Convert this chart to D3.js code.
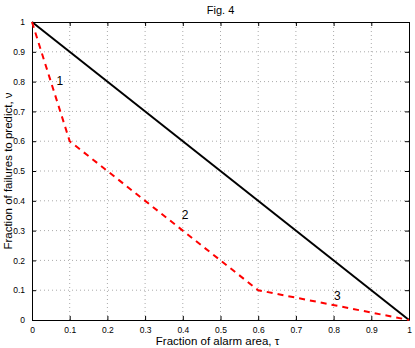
<!DOCTYPE html>
<html lang="en">
<head>
<meta charset="utf-8" />
<script src="https://d3js.org/d3.v7.min.js"></script>
<style>
  body { margin: 0; background: #fff; }
  text { font-family: "Liberation Sans", Arial, sans-serif; }
</style>
</head>
<body>
<div id="chart"></div>
<script>
// data
var diagX = [0, 1];
var diagY = [1, 0];
var redX = [0, 0.1, 0.6, 1];
var redY = [1, 0.6, 0.1, 0];
var labelText = ["1", "2", "3"];
var labelX = [0.074, 0.406, 0.81];
var labelY = [0.8, 0.35, 0.077];
var ticks = [0, 0.1, 0.2, 0.3, 0.4, 0.5, 0.6, 0.7, 0.8, 0.9, 1];

var width = 415, height = 348;
var margin = { left: 32, right: 6, top: 22, bottom: 28 };

var svg = d3.select("#chart").append("svg")
    .attr("width", width)
    .attr("height", height);

var x = d3.scaleLinear().domain([0, 1]).range([margin.left, width - margin.right]);
var y = d3.scaleLinear().domain([0, 1]).range([height - margin.bottom, margin.top]);

// grid
svg.append("g").selectAll("line").data(ticks.slice(1, -1)).enter().append("line")
    .attr("x1", d => x(d)).attr("x2", d => x(d))
    .attr("y1", y(0)).attr("y2", y(1))
    .attr("stroke", "#aaa").attr("stroke-width", 1)
    .attr("stroke-dasharray", "1,3");
svg.append("g").selectAll("line").data(ticks.slice(1, -1)).enter().append("line")
    .attr("y1", d => y(d)).attr("y2", d => y(d))
    .attr("x1", x(0)).attr("x2", x(1))
    .attr("stroke", "#aaa").attr("stroke-width", 1)
    .attr("stroke-dasharray", "1,3");

// axes (ticks inward)
var fmt = d => d === 0 || d === 1 ? d3.format("d")(d) : d3.format(".1f")(d);
var xAxis = svg.append("g").attr("transform", "translate(0," + y(0) + ")")
    .call(d3.axisBottom(x).tickValues(ticks).tickFormat(fmt).tickSizeInner(-4).tickSizeOuter(0).tickPadding(7));
var yAxis = svg.append("g").attr("transform", "translate(" + x(0) + ",0)")
    .call(d3.axisLeft(y).tickValues(ticks).tickFormat(fmt).tickSizeInner(-4).tickSizeOuter(0).tickPadding(7));
var xTop = svg.append("g").attr("transform", "translate(0," + y(1) + ")")
    .call(d3.axisTop(x).tickValues(ticks).tickFormat("").tickSizeInner(-4).tickSizeOuter(0));
var yRight = svg.append("g").attr("transform", "translate(" + x(1) + ",0)")
    .call(d3.axisRight(y).tickValues(ticks).tickFormat("").tickSizeInner(-4).tickSizeOuter(0));
[xAxis, yAxis, xTop, yRight].forEach(function (g) {
    g.selectAll("path, line").attr("stroke", "#000").attr("stroke-width", 1);
    g.selectAll("text").attr("font-size", 8.5).attr("fill", "#000")
        .style("font-family", "'Liberation Sans', Arial, sans-serif");
});

var line = d3.line().x(d => x(d[0])).y(d => y(d[1]));

// diagonal
svg.append("path")
    .datum(d3.zip(diagX, diagY))
    .attr("d", line)
    .attr("fill", "none")
    .attr("stroke", "#000")
    .attr("stroke-width", 2);

// red dashed
svg.append("path")
    .datum(d3.zip(redX, redY))
    .attr("d", line)
    .attr("fill", "none")
    .attr("stroke", "#ff0000")
    .attr("stroke-width", 2)
    .attr("stroke-dasharray", "6,5");

// curve labels
svg.selectAll(".lbl").data(labelText).enter().append("text")
    .attr("class", "lbl")
    .attr("x", (d, i) => x(labelX[i]))
    .attr("y", (d, i) => y(labelY[i]))
    .attr("text-anchor", "middle")
    .attr("dominant-baseline", "middle")
    .attr("font-size", 12)
    .text(d => d);

// title and axis labels
svg.append("text")
    .attr("x", (x(0) + x(1)) / 2).attr("y", 14)
    .attr("text-anchor", "middle")
    .attr("font-size", 11)
    .text("Fig. 4");

svg.append("text")
    .attr("x", (x(0) + x(1)) / 2 - 3).attr("y", 345)
    .attr("text-anchor", "middle")
    .attr("font-size", 11.5)
    .text("Fraction of alarm area, \u03c4");

svg.append("text")
    .attr("transform", "translate(12," + (y(0) + y(1)) / 2 + ") rotate(-90)")
    .attr("text-anchor", "middle")
    .attr("font-size", 11.5)
    .text("Fraction of failures to predict, \u03bd");
</script>
</body>
</html>
